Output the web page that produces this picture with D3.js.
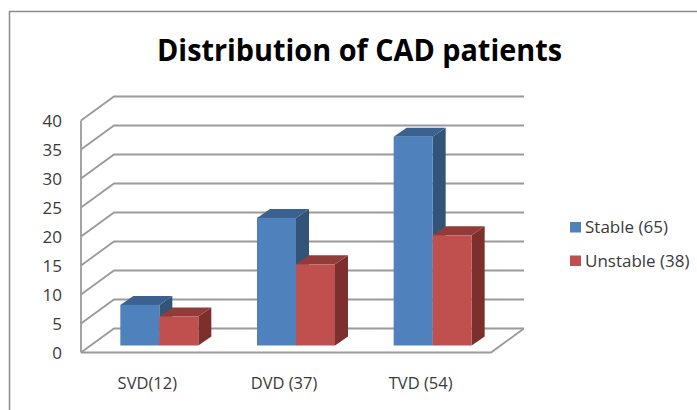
<!DOCTYPE html>
<html><head><meta charset="utf-8">
<script src="https://cdn.jsdelivr.net/npm/d3@7"></script>
<style>html,body{margin:0;padding:0;background:#fff}svg{display:block}</style>
</head><body><svg id="c" width="697" height="410"></svg>
<script>
const categories = ["SVD(12)", "DVD (37)", "TVD (54)"];
const stable = [7, 22, 36];
const unstable = [5, 14, 19];
const yTicks = [0, 5, 10, 15, 20, 25, 30, 35, 40];
const seriesNames = ["Stable (65)", "Unstable (38)"];
const faceColors = ["#4f81bd", "#c0504d"];
const topColors = ["#3a6190", "#923c3a"];
const sideColors = ["#325479", "#7b302e"];

const font = "'Open Sans','Noto Sans',sans-serif";
const svg = d3.select("#c");
const x = d3.scaleBand().domain(categories).range([81, 491]);
const y = d3.scaleLinear().domain([0, 40]).range([352.5, 120.5]);
const wall = {dx: 33, dy: -24};
const start = {dx: 10, dy: -7};
const depth = {dx: 13, dy: -9};
const grid = "#9a9a9a";

// chart frame
svg.append("path").attr("d", "M9.5,410V11.5H697").attr("fill", "none").attr("stroke", "#8c8c8c").attr("stroke-width", 1.5);

// title
svg.append("text").attr("x", 359.5).attr("y", 60.5).attr("text-anchor", "middle")
  .attr("font-family", font).attr("font-weight", 700).attr("font-size", 31).attr("fill", "#000")
  .attr("textLength", 405).attr("lengthAdjust", "spacingAndGlyphs").text("Distribution of CAD patients");

// walls and gridlines
const [xl, xr] = x.range();
const lines = svg.append("g").attr("fill", "none").attr("stroke", grid).attr("stroke-width", 1.8);
yTicks.forEach(t => {
  const p = d3.path();
  p.moveTo(xl, y(t));
  p.lineTo(xl + wall.dx, y(t) + wall.dy);
  p.lineTo(xr + wall.dx, y(t) + wall.dy);
  lines.append("path").attr("d", p.toString());
});
lines.append("path").attr("d", `M${xl},${y(0)}V${y(40)}`);
lines.append("path").attr("d", `M${xl},${y(0)}H${xr}L${xr + wall.dx},${y(0) + wall.dy}`);

// value axis
const yAxis = d3.axisLeft(y).tickValues(yTicks).tickSize(0).tickPadding(0);
const gy = svg.append("g").attr("transform", "translate(62,1)").call(yAxis);
gy.select(".domain").remove();
gy.selectAll("text").attr("font-family", font).attr("font-size", 17).attr("fill", "#3a3a3a");

// category axis
const xAxis = d3.axisBottom(x).tickSize(0).tickPadding(0);
const gx = svg.append("g").attr("transform", "translate(-2,377)").call(xAxis);
gx.select(".domain").remove();
gx.selectAll("text").attr("font-family", font).attr("font-size", 16.5).attr("fill", "#3a3a3a");

// bars
const barW = 39;
const barBase = y(0) + start.dy;
const unitH = (y(0) - y(1));
const barLayer = svg.append("g");
function drawBar(x0, v, s) {
  const h = v * unitH, top = barBase - h, x1 = x0 + barW;
  const g = barLayer.append("g");
  g.append("path").attr("fill", sideColors[s])
    .attr("d", `M${x1},${top}L${x1 + depth.dx},${top + depth.dy}V${barBase + depth.dy}L${x1},${barBase}Z`);
  g.append("path").attr("fill", topColors[s])
    .attr("d", `M${x0},${top}L${x0 + depth.dx},${top + depth.dy}H${x1 + depth.dx}L${x1},${top}Z`);
  g.append("rect").attr("x", x0).attr("y", top).attr("width", barW).attr("height", h).attr("fill", faceColors[s]);
}
categories.forEach((c, i) => {
  const cx = x(c) + x.bandwidth() / 2 + start.dx;
  drawBar(cx - barW, stable[i], 0);
  drawBar(cx, unstable[i], 1);
});

// legend
const ly = d3.scalePoint().domain(seriesNames).range([227, 260.5]);
seriesNames.forEach((n, i) => {
  svg.append("rect").attr("x", 570).attr("y", ly(n) - 5).attr("width", 11).attr("height", 10.5).attr("fill", faceColors[i]);
  svg.append("text").attr("x", 585).attr("y", ly(n)).attr("dy", "0.36em")
    .attr("font-family", font).attr("font-size", 17).attr("fill", "#3a3a3a").text(n);
});
</script></body></html>
